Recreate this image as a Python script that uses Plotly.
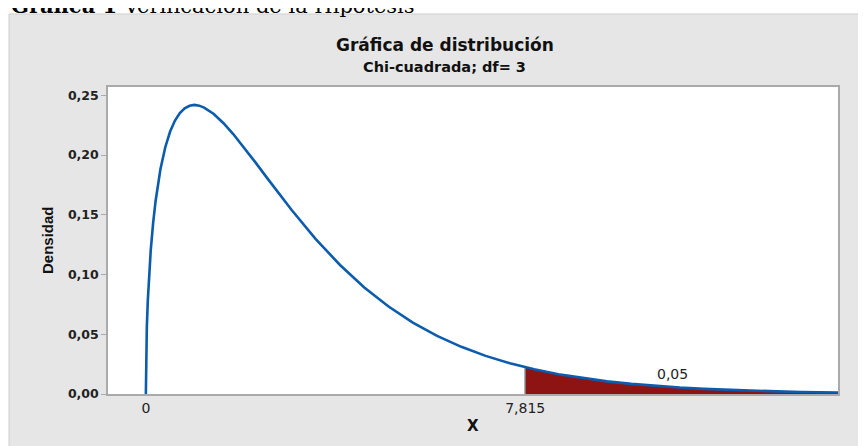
import plotly.graph_objects as go

# Chi-square (df=3) density
x_vals = [0, 0.005, 0.01, 0.02, 0.04, 0.07, 0.1, 0.15, 0.2, 0.3, 0.4, 0.5, 0.6, 0.7,
          0.8, 0.9, 1.0, 1.1, 1.2, 1.4, 1.6, 1.8, 2.0, 2.25, 2.5, 2.75, 3.0, 3.5,
          4.0, 4.5, 5.0, 5.5, 6.0, 6.5, 7.0, 7.5, 7.815, 8.0, 8.5, 9.0, 9.5, 10.0,
          10.5, 11.0, 11.5, 12.0, 12.5, 13.0, 13.5, 14.0, 14.26]
density = [0.0, 0.0281, 0.0397, 0.0559, 0.0782, 0.1019, 0.1200, 0.1433, 0.1614,
           0.1881, 0.2066, 0.2197, 0.2289, 0.2352, 0.2392, 0.2413, 0.2420, 0.2414,
           0.2398, 0.2344, 0.2267, 0.2176, 0.2076, 0.1943, 0.1807, 0.1673, 0.1542,
           0.1297, 0.1080, 0.0892, 0.0732, 0.0598, 0.0487, 0.0395, 0.0319, 0.0257,
           0.0224, 0.0207, 0.0166, 0.0133, 0.0106, 0.0085, 0.0068, 0.0054, 0.0043,
           0.0034, 0.0027, 0.0022, 0.0017, 0.0014, 0.0012]

critical_x = 7.815
critical_y = 0.0224
alpha_label = "0,05"
alpha_pos = (10.86, 0.0164)

x_tick_vals = [0, 7.815]
x_tick_text = ["0", "7,815"]
y_tick_vals = [0, 0.05, 0.10, 0.15, 0.20, 0.25]

tail_x = [x for x in x_vals if x >= critical_x]
tail_y = [y for x, y in zip(x_vals, density) if x >= critical_x]

fig = go.Figure()

# rejection region
fig.add_trace(go.Scatter(
    x=tail_x, y=tail_y, mode="lines", fill="tozeroy",
    fillcolor="#8e1414", line=dict(width=0, color="#8e1414"),
    hoverinfo="skip", showlegend=False
))

# boundary line at the critical value
fig.add_trace(go.Scatter(
    x=[critical_x, critical_x], y=[0, critical_y], mode="lines",
    line=dict(color="#7a7a7a", width=1.5), showlegend=False
))

# density curve
fig.add_trace(go.Scatter(
    x=x_vals, y=density, mode="lines",
    line=dict(color="#0b5cad", width=2.6), showlegend=False
))

title_font = dict(family="DejaVu Sans", size=17, color="#111111", weight="bold")

# the page body adds an 8px offset, so margins are shifted up/left by 8px
fig.update_layout(
    width=866, height=446,
    margin=dict(l=100, r=36, t=79, b=60),
    paper_bgcolor="white", plot_bgcolor="white",
    separators=",.",
    showlegend=False,
    shapes=[
        # grey frame behind the chart
        dict(type="rect", xref="paper", yref="paper", x0=-0.1356, x1=1.1, y0=-0.3, y1=1.2378,
             fillcolor="#e6e6e6", line=dict(color="#cfcfcf", width=1), layer="below"),
        dict(type="rect", xref="paper", yref="paper", x0=0, x1=1, y0=0, y1=1,
             fillcolor="white", line=dict(width=0), layer="below"),
    ],
    annotations=[
        # caption above the chart, cut off by the top edge as in the source
        dict(text="<b>Gráfica 1</b> Verificación de la Hipótesis", xref="paper", yref="paper",
             x=-0.1356, y=1.217, xanchor="left", yanchor="bottom", showarrow=False,
             font=dict(family="DejaVu Serif", size=21, color="black")),
        dict(text="Gráfica de distribución", xref="paper", yref="paper",
             x=0.4616, y=1.1368, xanchor="center", yanchor="middle", showarrow=False,
             font=title_font),
        dict(text="Chi-cuadrada; df= 3", xref="paper", yref="paper",
             x=0.4616, y=1.0651, xanchor="center", yanchor="middle", showarrow=False,
             font=dict(family="DejaVu Sans", size=14.5, color="#111111", weight="bold")),
        dict(text="Densidad", xref="paper", yref="paper", textangle=-90,
             x=-0.0836, y=0.5016, xanchor="center", yanchor="middle", showarrow=False,
             font=dict(family="Liberation Sans Narrow, Liberation Sans", size=15,
                       color="#111111", weight="bold")),
        dict(text="X", xref="paper", yref="paper",
             x=0.5, y=-0.104, xanchor="center", yanchor="middle", showarrow=False,
             font=dict(family="DejaVu Sans", size=15, color="#111111", weight="bold")),
        dict(text=alpha_label, x=alpha_pos[0], y=alpha_pos[1], xref="x", yref="y",
             xanchor="center", yanchor="middle", showarrow=False,
             font=dict(family="DejaVu Sans", size=14, color="#222222")),
    ],
)

fig.update_xaxes(
    range=[-0.78, 14.26],
    tickvals=x_tick_vals, ticktext=x_tick_text,
    showgrid=False, zeroline=False,
    showline=True, linecolor="#aaaaaa", linewidth=1.5, mirror=True,
    ticks="", tickfont=dict(family="DejaVu Sans", size=14, color="#222222"),
)

fig.update_yaxes(
    range=[0, 0.257],
    tickvals=y_tick_vals, tickformat=".2f",
    showgrid=False, zeroline=False,
    showline=True, linecolor="#aaaaaa", linewidth=1.5, mirror=True,
    ticks="outside", ticklen=5, tickcolor="#aaaaaa",
    tickfont=dict(family="DejaVu Sans", size=12.5, color="#222222", weight="bold"),
)

fig.write_html("out.html")
